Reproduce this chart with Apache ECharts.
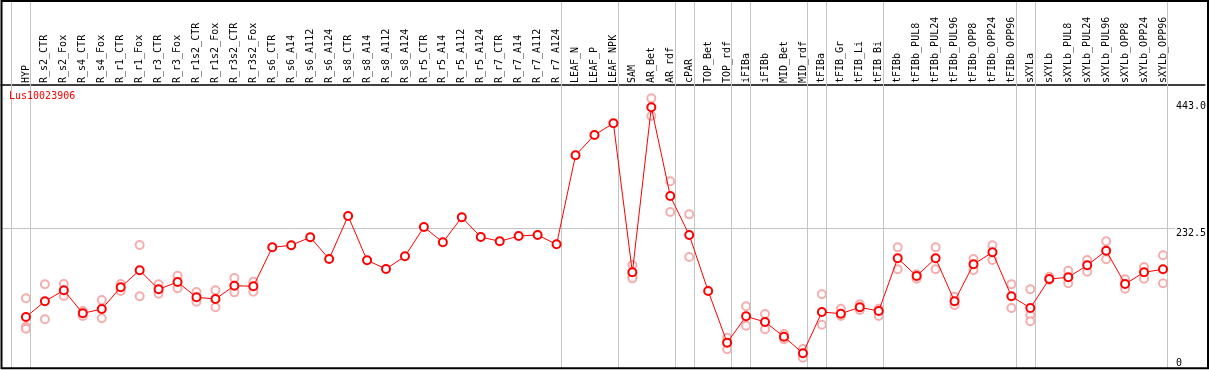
<!DOCTYPE html>
<html>
<head>
<meta charset="utf-8">
<script src="https://cdn.jsdelivr.net/npm/echarts@6/dist/echarts.min.js"></script>
<style>html,body{margin:0;padding:0;background:#fff}#c{width:1209px;height:370px}</style>
</head>
<body>
<div id="c"></div>
<script>
const geneName = 'Lus10023906';
const categories = ['HYP','R_s2_CTR','R_s2_Fox','R_s4_CTR','R_s4_Fox','R_r1_CTR','R_r1_Fox','R_r3_CTR','R_r3_Fox','R_r1s2_CTR','R_r1s2_Fox','R_r3s2_CTR','R_r3s2_Fox','R_s6_CTR','R_s6_A14','R_s6_A112','R_s6_A124','R_s8_CTR','R_s8_A14','R_s8_A112','R_s8_A124','R_r5_CTR','R_r5_A14','R_r5_A112','R_r5_A124','R_r7_CTR','R_r7_A14','R_r7_A112','R_r7_A124','LEAF_N','LEAF_P','LEAF_NPK','SAM','AR_Bet','AR_rdf','cPAR','TOP_Bet','TOP_rdf','iFIBa','iFIBb','MID_Bet','MID_rdf','tFIBa','tFIB_Gr','tFIB_Li','tFIB_Bi','tFIBb','tFIBb_PUL8','tFIBb_PUL24','tFIBb_PUL96','tFIBb_OPP8','tFIBb_OPP24','tFIBb_OPP96','sXYLa','sXYLb','sXYLb_PUL8','sXYLb_PUL24','sXYLb_PUL96','sXYLb_OPP8','sXYLb_OPP24','sXYLb_OPP96'];
const means = [84.9,111,129.3,91,98.2,134.3,162.6,131,143.1,117.6,114.8,137,135.9,200.8,204.2,217.5,181.4,253,179.2,164.8,185.9,234.6,209.2,250.8,218,210.8,219.7,221.3,205.8,353.9,387.7,407.2,159.2,433.8,286.2,221.3,128.1,42.2,86,76.6,52.1,24.4,93.2,90.4,101,94.9,182.6,153.1,182.6,111,172.6,192.5,119.3,99.8,148.1,150.9,170.9,195.2,139.8,159.2,164.3];
const replicates = [
  [116,68.7,65.4],[139.3,81],[139.8,119.8],[94.9,86.5],[113.2,82.7],[139.8,128.1],[204.7,119.3],[139.3,123.7],[153.6,132.6],[126.5,110.4],[129.3,101],[149.8,125.9],[143.6,127],
  [],[],[],[],[],[],[],[],[],[],[],[],[],[],[],[],[],[],[],
  [171.4,152,149.2],[448.8,419.4],[310.7,259.6],[255.7,184.7],[],[50.5,31.1],[102.7,70.4],[89.9,64.4],[56.6,47.8],[31.6,17.2],[122.6,72.1],[98.7,86.5],[106,96.5],[98.7,86.5],
  [200.8,164.3],[155.9,148.6],[200.8,164.3],[118.7,104.8],[181.4,163.1],[204.2,179.7],[139.3,99.8],
  [131,88.2,77.7],[152,146.4],[161.9,140.9],[179.7,160.3],[210.8,180.9],[147.6,132],[168.1,148.6],[187.6,140.9]
];
const groupEnds = [-1,0,28,31,34,35,37,38,41,42,45,52,53,60];
const yTickLabels = [232.5, 443.0];
const yZeroLabel = [0];

const lineData = means.map((v, i) => [i, v]);
const repData = [];
replicates.forEach((arr, i) => arr.forEach(v => repData.push([i, v])));
const idx = categories.map((c, i) => i);

const FONT = 'DejaVu Sans Mono';
const xMin = -25 / 19, xMax = 1182 / 19;
const yMax = 612.4;

const chart = echarts.init(document.getElementById('c'), null, {renderer: 'canvas'});
chart.setOption({
  animation: false,
  backgroundColor: '#fff',
  title: {text: geneName, left: 9, top: 91, padding: 0,
    textStyle: {color: '#ff0000', fontFamily: FONT, fontSize: 10, fontWeight: 'normal'}},
  grid: {left: 1, right: 1, top: 0, bottom: 2},
  xAxis: [
    {type: 'value', min: xMin, max: xMax, show: false},
    {type: 'value', min: xMin, max: xMax, position: 'top', offset: -85,
      axisLine: {show: true, onZero: false, lineStyle: {color: '#000', width: 1.5}},
      axisTick: {show: false}, splitLine: {show: false},
      axisLabel: {customValues: idx, rotate: -90, margin: 2, color: '#000',
        fontFamily: FONT, fontSize: 10, formatter: v => categories[Math.round(v)]}}
  ],
  yAxis: [
    {type: 'value', min: 0, max: yMax, position: 'right', offset: -32.5,
      axisLine: {show: false, onZero: false}, axisTick: {show: false}, splitLine: {show: false},
      axisLabel: {customValues: yTickLabels, margin: 3.5, verticalAlign: 'top', color: '#000',
        fontFamily: FONT, fontSize: 10, formatter: v => v.toFixed(1)}},
    {type: 'value', min: 0, max: yMax, position: 'right', offset: -32.5,
      axisLine: {show: false, onZero: false}, axisTick: {show: false}, splitLine: {show: false},
      axisLabel: {customValues: yZeroLabel, margin: 3.5, verticalAlign: 'bottom', color: '#000',
        fontFamily: FONT, fontSize: 10, formatter: v => String(v)}}
  ],
  series: [
    {type: 'scatter', xAxisIndex: 0, yAxisIndex: 0, data: repData, symbol: 'emptyCircle', symbolSize: 8,
      itemStyle: {color: '#f29a9a', borderWidth: 1.3}, z: 3, silent: true,
      markLine: {silent: true, symbol: 'none', label: {show: false},
        lineStyle: {color: '#c4c4c4', width: 1, type: 'solid'},
        data: [
          [{coord: [xMin, yTickLabels[0]]}, {coord: [(1178 - 26) / 19, yTickLabels[0]]}]
        ]}},
    {type: 'line', xAxisIndex: 0, yAxisIndex: 0, data: lineData, symbol: 'emptyCircle', symbolSize: 8,
      itemStyle: {color: '#ff0000', borderWidth: 1.5}, lineStyle: {color: '#ff0000', width: 1}, z: 5,
      markLine: {silent: true, symbol: 'none', label: {show: false},
        lineStyle: {color: '#c4c4c4', width: 1, type: 'solid'},
        data: groupEnds.map(i => ({xAxis: i + 0.237}))}}
  ],
  graphic: [
    {type: 'rect', z: 100, silent: true, shape: {x: 1.5, y: 1, width: 1206.5, height: 367.3},
      style: {fill: 'none', stroke: '#000', lineWidth: 2}}
  ]
});
</script>
</body>
</html>
